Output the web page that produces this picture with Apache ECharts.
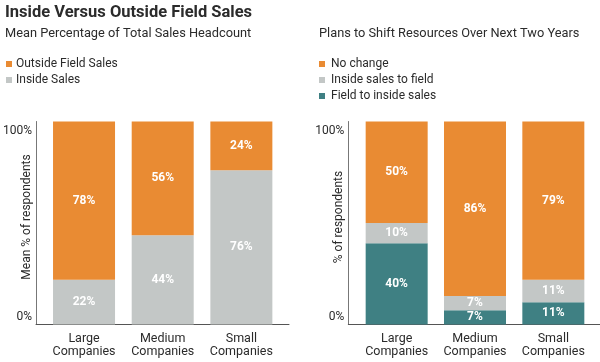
<!DOCTYPE html>
<html><head><meta charset="utf-8">
<script src="https://cdn.jsdelivr.net/npm/echarts@6/dist/echarts.min.js"></script>
<style>html,body{margin:0;padding:0;background:#fff}#c{width:600px;height:362px}</style>
</head><body><div id="c"></div>
<script>
const categories = ['Large\nCompanies', 'Medium\nCompanies', 'Small\nCompanies'];
const insideSales = [22, 44, 76];
const outsideField = [78, 56, 24];
const fieldToInside = [40, 7, 11];
const insideToField = [10, 7, 11];
const noChange = [50, 86, 79];
const yTicks = ['0%', '100%'];

const ORANGE = '#E98B33', GRAY = '#C3C7C6', TEAL = '#3F8083', TXT = '#2b2b2b';
const FONT = 'Roboto';
const chart = echarts.init(document.getElementById('c'));

const gTop = 121.5, gH = 203;
function barLabel() {
  return {show: true, position: 'inside', color: '#fff', fontSize: 12, fontWeight: 'bold', fontFamily: FONT, formatter: p => p.value + '%'};
}
function lineY(name) {
  return {type: 'value', min: 0, max: 100, interval: 100,
    name: name, nameLocation: 'middle', nameGap: 3, nameMoveOverlap: false,
    nameTextStyle: {color: TXT, fontSize: 12, fontFamily: FONT, padding: [0, 0, 0, 12]},
    axisLine: {show: true, lineStyle: {color: '#777', width: 1}},
    axisTick: {show: false}, splitLine: {show: false},
    axisLabel: {margin: 4, fontFamily: FONT, fontSize: 12, color: TXT,
      formatter: v => v === 100 ? '{t|' + yTicks[1] + '}' : '{b|' + yTicks[0] + '}',
      rich: {t: {padding: [18, 0, 0, 0], fontSize: 12, color: TXT, fontFamily: FONT},
             b: {padding: [0, 0, 15, 0], fontSize: 12, color: TXT, fontFamily: FONT}}}};
}
function lineX() {
  return {type: 'category', data: ['a'], axisLine: {show: true, lineStyle: {color: '#555', width: 1}},
    axisTick: {show: false}, axisLabel: {show: false}};
}
function barX(gi) {
  return {type: 'category', gridIndex: gi, data: categories, axisLine: {show: false}, axisTick: {show: false},
    axisLabel: {interval: 0, hideOverlap: false, margin: 8, fontFamily: FONT, fontSize: 12.5, lineHeight: 13, color: TXT}};
}
function barY(gi) {
  return {type: 'value', gridIndex: gi, min: 0, max: 100, show: false, splitLine: {show: false}};
}

chart.setOption({
  animation: false,
  textStyle: {fontFamily: FONT},
  title: [
    {text: 'Inside Versus Outside Field Sales', left: 5, top: 4, padding: 0,
     textStyle: {fontSize: 16.5, fontWeight: 'bold', color: TXT, fontFamily: FONT, lineHeight: 17}},
    {text: 'Mean Percentage of Total Sales Headcount', left: 5, top: 26, padding: 0,
     textStyle: {fontSize: 12.8, fontWeight: 'normal', color: TXT, fontFamily: FONT, lineHeight: 15}},
    {text: 'Plans to Shift Resources Over Next Two Years', left: 319, top: 26, padding: 0,
     textStyle: {fontSize: 12.8, fontWeight: 'normal', color: TXT, fontFamily: FONT, lineHeight: 15}}
  ],
  legend: [
    {data: ['Outside Field Sales', 'Inside Sales'], orient: 'vertical', left: 6, top: 57,
     icon: 'rect', itemWidth: 6, itemHeight: 6, itemGap: 2, padding: 0,
     textStyle: {fontSize: 12, color: TXT, fontFamily: FONT, lineHeight: 14, padding: [0, 0, 0, -1]}},
    {data: ['No change', 'Inside sales to field', 'Field to inside sales'], orient: 'vertical', left: 319, top: 57,
     icon: 'rect', itemWidth: 6, itemHeight: 6, itemGap: 2, padding: 0,
     textStyle: {fontSize: 12, color: TXT, fontFamily: FONT, lineHeight: 14, padding: [0, 0, 0, 1]}}
  ],
  grid: [
    {left: 44.7, width: 236, top: gTop, height: gH},
    {left: 35, width: 254, top: gTop, height: gH},
    {left: 357.5, width: 235, top: gTop, height: gH},
    {left: 348.3, width: 252, top: gTop, height: gH}
  ],
  xAxis: [barX(0), Object.assign(lineX(), {gridIndex: 1}), barX(2), Object.assign(lineX(), {gridIndex: 3})],
  yAxis: [barY(0), Object.assign(lineY('Mean % of respondents'), {gridIndex: 1}),
          barY(2), Object.assign(lineY('% of respondents'), {gridIndex: 3})],
  series: [
    {name: 'Inside Sales', type: 'bar', stack: 'L', xAxisIndex: 0, yAxisIndex: 0, data: insideSales,
     barWidth: 62, itemStyle: {color: GRAY}, label: barLabel()},
    {name: 'Outside Field Sales', type: 'bar', stack: 'L', xAxisIndex: 0, yAxisIndex: 0, data: outsideField,
     barWidth: 62, itemStyle: {color: ORANGE}, label: barLabel()},
    {name: 'Field to inside sales', type: 'bar', stack: 'R', xAxisIndex: 2, yAxisIndex: 2, data: fieldToInside,
     barWidth: 62, itemStyle: {color: TEAL}, label: barLabel()},
    {name: 'Inside sales to field', type: 'bar', stack: 'R', xAxisIndex: 2, yAxisIndex: 2, data: insideToField,
     barWidth: 62, itemStyle: {color: GRAY}, label: barLabel()},
    {name: 'No change', type: 'bar', stack: 'R', xAxisIndex: 2, yAxisIndex: 2, data: noChange,
     barWidth: 62, itemStyle: {color: ORANGE}, label: barLabel()}
  ]
});
</script></body></html>
